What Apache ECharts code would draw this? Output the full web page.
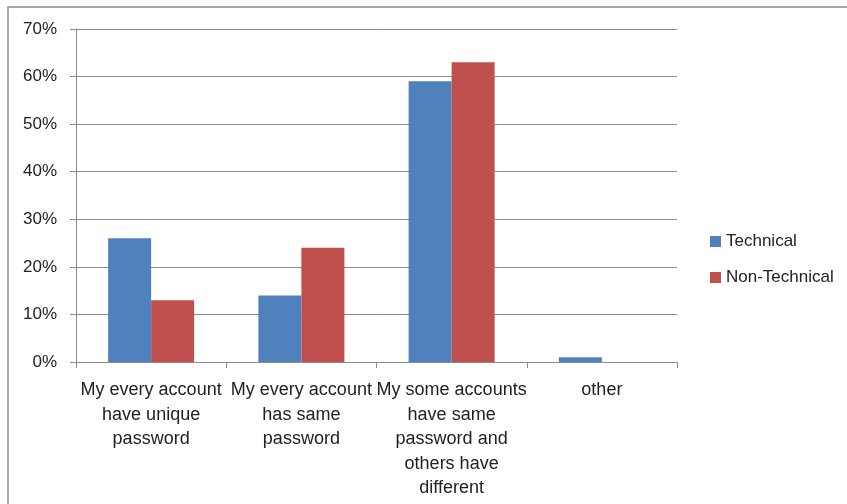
<!DOCTYPE html>
<html>
<head>
<meta charset="utf-8">
<script src="https://cdn.jsdelivr.net/npm/echarts@6/dist/echarts.min.js"></script>
<style>
  html, body { margin: 0; padding: 0; background: #fff; }
  #chart { width: 847px; height: 504px; }
</style>
</head>
<body>
<div id="chart"></div>
<script>
// Password habits by respondent group
const categories = [
  'My every account\nhave unique\npassword',
  'My every account\nhas same\npassword',
  'My some accounts\nhave same\npassword and\nothers have\ndifferent',
  'other'
];
const technical = [26, 14, 59, 1];
const nonTechnical = [13, 24, 63, 0];
const yTicks = [0, 10, 20, 30, 40, 50, 60, 70];

const font = '"Liberation Sans", sans-serif';
const chart = echarts.init(document.getElementById('chart'));
chart.setOption({
  animation: false,
  backgroundColor: '#fff',
  graphic: [{
    type: 'rect',
    shape: { x: 8, y: 7, width: 900, height: 560 },
    style: { fill: 'none', stroke: '#8c8c8c', lineWidth: 1.5 },
    z: -1
  }],
  grid: { left: 76, right: 170, top: 29, bottom: 142 },
  legend: {
    orient: 'vertical',
    left: 710,
    top: 233,
    padding: 0,
    itemWidth: 11,
    itemHeight: 11,
    itemGap: 19,
    icon: 'rect',
    textStyle: { fontFamily: font, fontSize: 17, color: '#222' },
    data: ['Technical', 'Non-Technical']
  },
  xAxis: {
    type: 'category',
    data: categories,
    axisLine: { lineStyle: { color: '#8c8c8c', width: 1 } },
    axisTick: { show: true, length: 6, lineStyle: { color: '#8c8c8c' } },
    axisLabel: {
      interval: 0,
      margin: 16,
      fontFamily: font,
      fontSize: 18,
      lineHeight: 24.5,
      color: '#222'
    }
  },
  yAxis: {
    type: 'value',
    min: yTicks[0],
    max: yTicks[yTicks.length - 1],
    interval: 10,
    axisLine: { show: true, lineStyle: { color: '#8c8c8c', width: 1 } },
    axisTick: { show: true, length: 6, lineStyle: { color: '#8c8c8c' } },
    splitLine: { lineStyle: { color: '#8c8c8c', width: 1 } },
    axisLabel: {
      margin: 19,
      fontFamily: font,
      fontSize: 17,
      color: '#222',
      formatter: v => v + '%'
    }
  },
  series: [
    {
      name: 'Technical',
      type: 'bar',
      data: technical,
      itemStyle: { color: '#4f81bd' },
      barWidth: 43,
      barGap: '0%'
    },
    {
      name: 'Non-Technical',
      type: 'bar',
      data: nonTechnical,
      itemStyle: { color: '#c0504d' },
      barWidth: 43,
      barGap: '0%'
    }
  ]
});
</script>
</body>
</html>
